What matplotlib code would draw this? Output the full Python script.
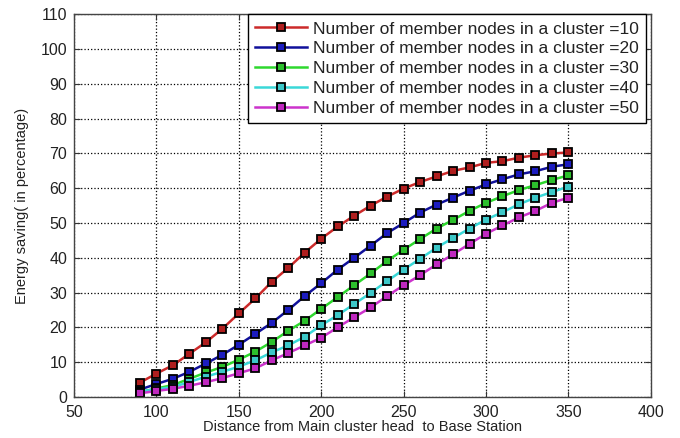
import matplotlib.pyplot as plt

plt.rcParams['font.family'] = ['Liberation Sans', 'DejaVu Sans']

distance = [90, 100, 110, 120, 130, 140, 150, 160, 170, 180, 190, 200, 210, 220,
            230, 240, 250, 260, 270, 280, 290, 300, 310, 320, 330, 340, 350]

nodes_10 = [4.1, 6.7, 9.1, 12.4, 15.7, 19.6, 24.0, 28.3, 33.1, 37.1, 41.5, 45.5, 49.0, 52.1,
            55.0, 57.6, 59.9, 61.8, 63.4, 65.0, 66.0, 67.3, 67.8, 68.8, 69.5, 70.0, 70.3]
nodes_20 = [2.1, 3.7, 5.2, 7.2, 9.6, 12.1, 15.0, 18.1, 21.3, 25.0, 29.0, 32.7, 36.6, 40.0,
            43.5, 47.1, 50.0, 53.0, 55.3, 57.3, 59.3, 61.1, 62.6, 64.0, 64.9, 66.2, 66.9]
nodes_30 = [1.4, 2.4, 3.4, 5.2, 7.0, 8.6, 10.7, 13.0, 15.8, 19.0, 21.9, 25.3, 28.7, 32.1,
            35.5, 39.1, 42.3, 45.4, 48.4, 50.9, 53.5, 55.8, 57.7, 59.5, 60.9, 62.4, 63.7]
nodes_40 = [1.5, 2.2, 2.8, 4.3, 5.8, 7.2, 8.7, 10.5, 12.8, 14.8, 17.3, 20.6, 23.5, 26.7,
            29.9, 33.3, 36.6, 39.7, 42.9, 45.7, 48.4, 51.0, 53.1, 55.4, 57.3, 58.9, 60.5]
nodes_50 = [1.0, 1.7, 2.3, 3.2, 4.2, 5.4, 6.8, 8.2, 10.5, 12.6, 14.8, 17.0, 20.0, 22.9,
            25.7, 29.0, 32.1, 35.0, 38.1, 41.0, 44.0, 46.9, 49.3, 51.6, 53.5, 55.8, 57.3]

labels = ['Number of member nodes in a cluster =10',
          'Number of member nodes in a cluster =20',
          'Number of member nodes in a cluster =30',
          'Number of member nodes in a cluster =40',
          'Number of member nodes in a cluster =50']
line_colors = ['#cc2a2a', '#10109a', '#2ed82e', '#3ad8d8', '#cc33cc']
face_colors = ['#b01e1e', '#1c1cc0', '#2cc02c', '#3cc8c8', '#c028c0']

fig = plt.figure(figsize=(6.8, 4.38), dpi=100)
ax = fig.add_axes([0.109, 0.094, 0.848, 0.873])

for ys, lab, lc, fc in zip([nodes_10, nodes_20, nodes_30, nodes_40, nodes_50],
                           labels, line_colors, face_colors):
    ax.plot(distance, ys, color=lc, linewidth=1.8, marker='s', markersize=6,
            markerfacecolor=fc, markeredgecolor='black', markeredgewidth=1.3, label=lab)

ax.set_xlim(50, 400)
ax.set_ylim(0, 110)
ax.set_xticks(range(50, 401, 50))
ax.set_yticks(range(0, 111, 10))
ax.grid(color='black', linestyle=':', linewidth=0.9)
ax.tick_params(direction='in', top=True, right=True, length=4, labelsize=11.5,
               colors='#333333', labelcolor='#222222')
ax.tick_params(axis='x', pad=6)
ax.tick_params(axis='y', pad=5)
for s in ax.spines.values():
    s.set_color('#444444')
    s.set_linewidth(1.0)

ax.set_xlabel('Distance from Main cluster head  to Base Station', fontsize=10.5,
              color='#222222', labelpad=0)
ax.set_ylabel('Energy saving( in percentage)', fontsize=10.5, color='#222222', labelpad=8)

leg = ax.legend(loc='upper right', bbox_to_anchor=(0.992, 1.0), borderaxespad=0,
                fontsize=12.5, fancybox=False, edgecolor='black', framealpha=1,
                handlelength=3.0, labelspacing=0.27, handletextpad=0.35, borderpad=0.4)
leg.get_frame().set_linewidth(1.0)
for t in leg.get_texts():
    t.set_color('#222222')

fig.savefig('out.png', dpi=100)
